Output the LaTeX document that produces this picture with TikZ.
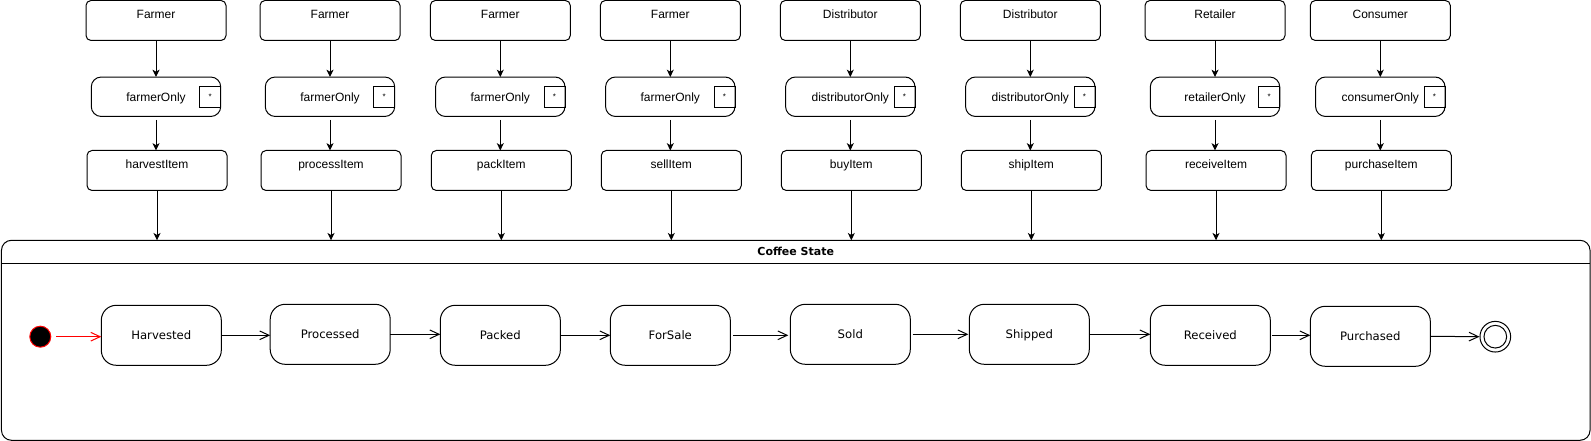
\documentclass[tikz,border=0pt]{standalone}
\usepackage{fontspec}
\setmainfont{Liberation Sans}
\newfontfamily\dejavu{DejaVu Sans}
\usetikzlibrary{arrows.meta,calc}
\tikzset{
  topbox/.style={draw, rounded corners=3.75pt, minimum width=105pt, minimum height=30pt, inner sep=0pt, outer sep=0pt, line width=0.75pt},
  midbox/.style={draw, rounded corners=7.5pt, minimum width=97.1pt, minimum height=29.6pt, inner sep=0pt, outer sep=0pt, line width=0.75pt, font=\fontsize{9}{11}\selectfont, text height=6.44pt, text depth=0pt},
  starbox/.style={draw, minimum width=15.75pt, minimum height=15.4pt, inner sep=0pt, outer sep=0pt, anchor=east, line width=0.75pt, font=\fontsize{6}{7}\selectfont},
  lbl/.style={font=\fontsize{9}{11}\selectfont, inner sep=0pt, anchor=base},
  statebox/.style={draw, rounded corners=11.25pt, minimum width=90pt, minimum height=45pt, inner sep=0pt, outer sep=0pt, line width=0.75pt, font=\dejavu\fontsize{8.75}{10}\selectfont, text height=6.9pt, text depth=0pt},
  container/.style={draw, rounded corners=7.5pt, minimum width=1191.4pt, minimum height=150pt, inner sep=0pt, outer sep=0pt, line width=0.75pt},
  flow/.style={-{Stealth[length=5.5pt,width=5.25pt,inset=1.5pt]}, line width=0.75pt},
  trans/.style={-{Straight Barb[length=7pt,width=6.5pt]}, line width=0.75pt},
}
\begin{document}
\begin{tikzpicture}[x=0.75pt,y=-0.75pt]
\useasboundingbox (0,0) rectangle (1591,441);
% container
\node[container] (cont) at (795.75,340.3) {};
\draw[line width=0.75pt] ([yshift=-17.25pt]cont.north west) -- ([yshift=-17.25pt]cont.north east);
\node[font=\dejavu\bfseries\fontsize{8.25}{10}\selectfont, inner sep=0pt, text height=6pt, text depth=0pt] (title) at (795.75,251.7) {Coffee State};
% columns
\foreach \i/\x/\role/\guard/\act in {1/156/Farmer/farmerOnly/harvestItem,
  2/330/Farmer/farmerOnly/processItem,
  3/500.3/Farmer/farmerOnly/packItem,
  4/670.3/Farmer/farmerOnly/sellItem,
  5/850.3/Distributor/distributorOnly/buyItem,
  6/1030.3/Distributor/distributorOnly/shipItem,
  7/1215/Retailer/retailerOnly/receiveItem,
  8/1380.3/Consumer/consumerOnly/purchaseItem}{
  \node[topbox] (t\i) at (\x,20.5) {};
  \node[lbl] (tl\i) at ($(t\i.north)+(0,17.8)$) {\role};
  \node[midbox] (m\i) at (\x,96.75) {\guard};
  \node[starbox] (s\i) at (m\i.east) {*};
  \node[topbox] (b\i) at (\x+1,170.5) {};
  \node[lbl] (bl\i) at ($(b\i.north)+(0,17.8)$) {\act};
  \draw[flow] (t\i.south) -- (m\i.north);
  \draw[flow, shorten <=2.6pt] (m\i.south) -- (m\i.south |- b\i.north);
  \draw[flow] (b\i.south) -- (b\i.south |- cont.north);
}
% states
\node[circle, fill=black, draw=red, line width=0.75pt, minimum size=15.75pt, inner sep=0pt] (init) at (40.3,336.7) {};
\node[statebox] (har) at (161.3,335.3) {Harvested};
\node[statebox] (pro) at (330.2,334.3) {Processed};
\node[statebox] (pac) at (500.3,335.3) {Packed};
\node[statebox] (for) at (670.3,335.3) {ForSale};
\node[statebox] (sol) at (850.3,334.3) {Sold};
\node[statebox] (shi) at (1029.3,334.3) {Shipped};
\node[statebox] (rec) at (1210.3,335.3) {Received};
\node[statebox] (pur) at (1370.3,336.3) {Purchased};
\node[circle, draw, line width=0.75pt, minimum size=23pt, inner sep=0pt] (fin) at (1495.3,336.7) {};
\node[circle, draw, line width=0.75pt, minimum size=17pt, inner sep=0pt] (fin2) at (fin.center) {};
\draw[trans, red, shorten <=3.7pt] (init.east) -- (init.east -| har.west);
\draw[trans, shorten <=0.6pt] (har.east) -- (har.east -| pro.west);
\draw[trans] (pro.east) -- (pro.east -| pac.west);
\draw[trans, shorten <=0.6pt] (pac.east) -- (pac.east -| for.west);
\draw[trans, shorten <=2.2pt, shorten >=1.5pt] (for.east) -- (for.east -| sol.west);
\draw[trans, shorten <=1.8pt, shorten >=0.7pt] (sol.east) -- (sol.east -| shi.west);
\draw[trans, shorten <=0.6pt] (shi.east) -- (shi.east -| rec.west);
\draw[trans, shorten <=1.2pt] (rec.east) -- (rec.east -| pur.west);
\draw[trans, shorten <=0.6pt] (pur.east) -- (fin.west);
\end{tikzpicture}
\end{document}
